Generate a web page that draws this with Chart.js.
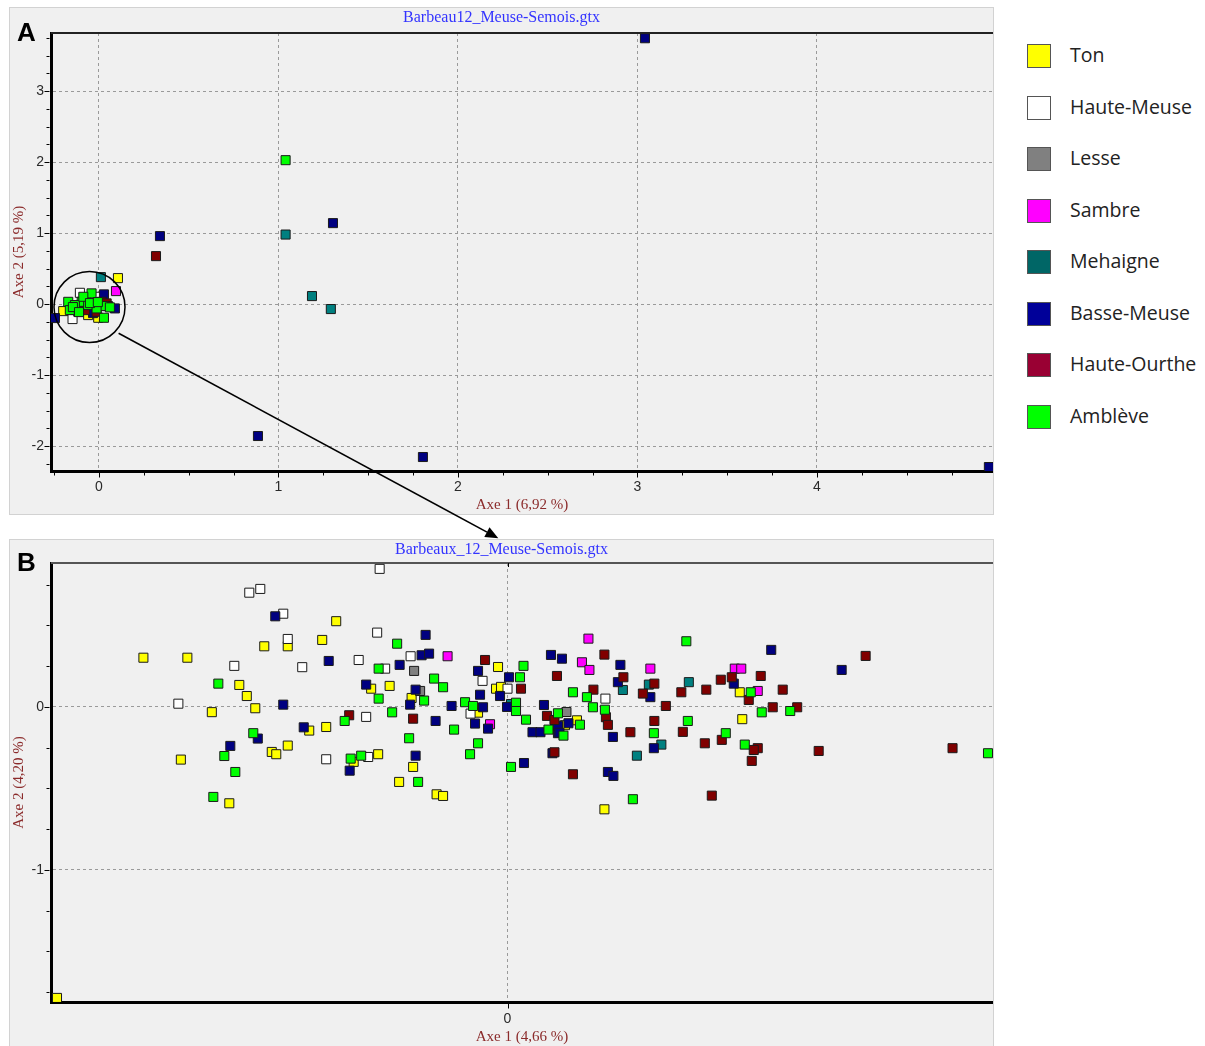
<!DOCTYPE html>
<html>
<head>
<meta charset="utf-8">
<script src="https://cdn.jsdelivr.net/npm/chart.js@4.4.1/dist/chart.umd.min.js"></script>
<style>
  body { margin: 0; background: #fff; width: 1205px; height: 1046px; position: relative; overflow: hidden; }
  .panel { position: absolute; left: 9px; width: 985px; background: #f0f0f0; border: 1px solid #d2d2d2; box-sizing: border-box; }
  .chart-box { position: absolute; left: 10px; width: 983px; }
  .letter { position: absolute; left: 17px; font: bold 26px "Liberation Sans", sans-serif; color: #000; }
  .leg-sw { position: absolute; left: 1027px; width: 24px; height: 24px; box-sizing: border-box; border: 1px solid #555; }
  .leg-txt { position: absolute; left: 1070px; height: 24px; line-height: 24px; font: 19.5px "Open Sans", sans-serif; color: #222; white-space: nowrap; }
  #overlay { position: absolute; left: 0; top: 0; pointer-events: none; }
</style>
</head>
<body>
<div class="panel" style="top:7px;height:508px"></div>
<div class="panel" style="top:539px;height:508px"></div>
<div class="chart-box" style="top:8px;height:506px"><canvas id="chart-a" width="983" height="506"></canvas></div>
<div class="chart-box" style="top:540px;height:506px"><canvas id="chart-b" width="983" height="506"></canvas></div>
<div class="letter" style="top:17px">A</div>
<div class="letter" style="top:547px">B</div>
<div id="legend"></div>
<svg id="overlay" width="1205" height="1046">
  <circle cx="89.5" cy="307" r="35.5" fill="none" stroke="#000" stroke-width="1.5"/>
  <line x1="118.6" y1="333.3" x2="487" y2="532.1" stroke="#000" stroke-width="1.6"/>
  <polygon points="498.3,538.3 484.3,536.9 489.5,527.3" fill="#000"/>
</svg>

<script>
// Groupes (bassins)
const series = ["Ton", "Haute-Meuse", "Lesse", "Sambre", "Mehaigne", "Basse-Meuse", "Haute-Ourthe", "Amblève"];
const pointColors = ["#ffff00", "#ffffff", "#808080", "#ff00ff", "#008080", "#000080", "#800000", "#00ff00"];
const legendColors = ["#ffff00", "#ffffff", "#808080", "#ff00ff", "#006666", "#000099", "#990033", "#00ff00"];

// Graphique A : Barbeau12_Meuse-Semois.gtx  [axe1, axe2]
const aTon = [[0.106, 0.366], [-0.199, -0.099], [-0.060, -0.155], [-0.004, -0.193]];
const aHauteMeuse = [[-0.147, -0.211], [-0.106, 0.159], [0.006, 0.103]];
const aLesse = [[-0.072, 0.056]];
const aSambre = [[0.095, 0.183]];
const aMehaigne = [[1.040, 0.980], [1.187, 0.113], [1.292, -0.070], [0.011, 0.380]];
const aBasseMeuse = [[3.042, 3.746], [0.340, 0.958], [1.304, 1.141], [0.886, -1.859], [1.805, -2.155],
  [4.958, -2.296], [-0.245, -0.197], [0.028, 0.137], [0.089, -0.061], [-0.033, -0.127]];
const aHauteOurthe = [[0.318, 0.676], [0.015, 0.032], [-0.078, -0.085], [0.043, 0.010], [-0.013, -0.108], [0.050, -0.028]];
const aAmbleve = [[1.040, 2.028], [-0.041, 0.151], [-0.171, 0.032], [-0.096, 0.032], [0.024, -0.028], [0.061, -0.046],
  [0.028, -0.193], [-0.115, -0.108], [-0.060, -0.014], [-0.162, -0.085], [-0.134, -0.014], [-0.013, -0.061],
  [-0.087, 0.103], [-0.145, -0.042], [-0.050, 0.014], [-0.006, 0.028], [-0.111, -0.113]];

// Graphique B : Barbeaux_12_Meuse-Semois.gtx  [axe1, axe2]
const bTon = [[-0.343, 0.526], [-0.440, 0.372], [-0.487, 0.372], [-0.371, 0.411], [-0.729, 0.302], [-0.641, 0.302],
  [-0.537, 0.135], [-0.522, 0.067], [-0.592, -0.032], [-0.505, -0.008], [-0.397, -0.145], [-0.363, -0.123],
  [-0.472, -0.276], [-0.463, -0.290], [-0.440, -0.237], [-0.654, -0.323], [-0.557, -0.591], [-0.273, 0.112],
  [-0.236, 0.129], [-0.192, 0.055], [-0.189, -0.368], [-0.308, -0.337], [-0.259, -0.290], [-0.217, -0.460],
  [-0.142, -0.536], [-0.129, -0.546], [-0.019, 0.245], [-0.023, 0.112], [-0.013, 0.123], [-0.059, -0.035],
  [0.139, -0.082], [0.115, -0.112], [0.194, -0.628], [0.465, 0.090], [0.470, -0.075], [-0.902, -1.785]];
const bHauteMeuse = [[-0.517, 0.701], [-0.495, 0.724], [-0.449, 0.572], [-0.440, 0.417], [-0.547, 0.252],
  [-0.411, 0.244], [-0.659, 0.020], [-0.363, -0.321], [-0.256, 0.847], [-0.261, 0.456], [-0.298, 0.288],
  [-0.194, 0.311], [-0.245, 0.235], [-0.283, -0.061], [-0.279, -0.307], [-0.050, 0.160], [0.000, 0.112],
  [-0.074, -0.041], [0.196, 0.051]];
const bLesse = [[-0.187, 0.221], [-0.175, 0.098], [0.118, -0.031]];
const bSambre = [[-0.120, 0.311], [-0.035, -0.106], [0.162, 0.419], [0.149, 0.274], [0.164, 0.227], [0.286, 0.235],
  [0.455, 0.235], [0.468, 0.235], [0.501, 0.098]];
const bMehaigne = [[0.007, 0.018], [0.231, 0.104], [0.283, 0.137], [0.363, 0.152], [0.308, -0.231], [0.259, -0.299]];
const bBasseMeuse = [[-0.465, 0.556], [-0.358, 0.282], [-0.449, 0.014], [-0.408, -0.125], [-0.500, -0.194],
  [-0.555, -0.239], [-0.164, 0.442], [-0.172, 0.317], [-0.157, 0.327], [-0.216, 0.258], [-0.283, 0.137],
  [-0.184, 0.106], [-0.195, 0.014], [-0.112, 0.006], [-0.144, -0.086], [-0.184, -0.299], [-0.316, -0.391],
  [-0.059, 0.221], [0.003, 0.182], [0.087, 0.319], [-0.055, 0.075], [-0.015, 0.067], [-0.049, -0.002],
  [-0.001, 0.000], [0.073, 0.012], [-0.065, -0.102], [-0.039, -0.133], [0.033, -0.344], [0.050, -0.155],
  [0.066, -0.155], [0.101, -0.161], [0.090, -0.284], [0.109, 0.296], [0.226, 0.258], [0.221, 0.152],
  [0.286, 0.060], [0.453, 0.143], [0.122, -0.100], [0.101, -0.115], [0.104, -0.158], [0.211, -0.184],
  [0.293, -0.253], [0.201, -0.399], [0.212, -0.423], [0.528, 0.350], [0.669, 0.227]];
const bHauteOurthe = [[-0.317, -0.051], [-0.189, -0.072], [-0.045, 0.288], [0.099, 0.190], [0.027, 0.112],
  [0.079, -0.055], [0.094, -0.080], [0.094, -0.278], [0.194, 0.321], [0.232, 0.182], [0.294, 0.143],
  [0.271, 0.082], [0.348, 0.090], [0.398, 0.106], [0.427, 0.167], [0.449, 0.182], [0.507, 0.190],
  [0.483, 0.043], [0.172, 0.106], [0.197, -0.063], [0.201, -0.110], [0.317, 0.006], [0.246, -0.155],
  [0.294, -0.086], [0.351, -0.153], [0.395, -0.223], [0.429, -0.202], [0.501, -0.253], [0.493, -0.264],
  [0.489, -0.331], [0.131, -0.413], [0.409, -0.544], [0.717, 0.313], [0.551, 0.106], [0.531, -0.002],
  [0.580, -0.002], [0.623, -0.270], [0.891, -0.253]];
const bAmbleve = [[-0.579, 0.143], [-0.509, -0.161], [-0.567, -0.301], [-0.545, -0.399], [-0.589, -0.552],
  [-0.221, 0.388], [-0.258, 0.235], [-0.147, 0.174], [-0.129, 0.121], [-0.258, 0.051], [-0.167, 0.039],
  [-0.326, -0.086], [-0.231, -0.033], [-0.107, -0.139], [-0.197, -0.192], [-0.314, -0.317], [-0.293, -0.299],
  [-0.179, -0.460], [0.032, 0.252], [0.025, 0.182], [-0.085, 0.029], [-0.069, 0.006], [0.017, 0.026],
  [0.017, -0.025], [0.037, -0.078], [-0.059, -0.223], [-0.075, -0.290], [0.007, -0.368], [0.101, -0.039],
  [0.082, -0.139], [0.358, 0.403], [0.131, 0.090], [0.159, 0.060], [0.171, -0.002], [0.195, -0.017],
  [0.145, -0.109], [0.112, -0.176], [0.361, -0.086], [0.293, -0.161], [0.437, -0.161], [0.475, -0.231],
  [0.251, -0.566], [0.487, 0.090], [0.509, -0.033], [0.566, -0.025], [0.962, -0.284]];

const aData = [aTon, aHauteMeuse, aLesse, aSambre, aMehaigne, aBasseMeuse, aHauteOurthe, aAmbleve];
const bData = [bTon, bHauteMeuse, bLesse, bSambre, bMehaigne, bBasseMeuse, bHauteOurthe, bAmbleve];

// Graduations
const aTicksX = [0, 1, 2, 3, 4];
const aTicksY = [-2, -1, 0, 1, 2, 3];
const bTicksX = [0];
const bTicksY = [-1, 0];

// Légende (HTML)
const legend = document.getElementById("legend");
series.forEach((nom, i) => {
    const cy = 56 + i * 51.5;
    legend.innerHTML += `
        <div class="leg-sw" style="top:${cy - 12}px;background:${legendColors[i]}"></div>
        <div class="leg-txt" style="top:${cy - 15}px">${nom}</div>
    `;
});

// Ligne du haut + petites graduations
const axisDecor = {
    id: "axisDecor",
    afterDraw(chart, args, opts) {
        const { ctx, chartArea: a, scales: { x, y } } = chart;
        ctx.save();
        ctx.strokeStyle = opts.topColor;
        ctx.lineWidth = 2;
        ctx.beginPath();
        ctx.moveTo(a.left, a.top);
        ctx.lineTo(a.right, a.top);
        ctx.stroke();

        ctx.strokeStyle = "#000";
        ctx.lineWidth = 1;
        ctx.beginPath();
        const isMajor = v => Math.abs(v - Math.round(v)) < 1e-6;
        if (opts.minorX) {
            for (let v = Math.ceil(x.min / opts.minorX) * opts.minorX; v <= x.max; v += opts.minorX) {
                const px = Math.round(x.getPixelForValue(v)) + 0.5;
                const len = isMajor(v) ? 5 : 3;
                ctx.moveTo(px, a.bottom + 1.5);
                ctx.lineTo(px, a.bottom + 1.5 + len);
            }
        }
        opts.ticksX.forEach(v => {
            const px = Math.round(x.getPixelForValue(v)) + 0.5;
            ctx.moveTo(px, a.bottom + 1.5);
            ctx.lineTo(px, a.bottom + 6.5);
            ctx.moveTo(px, a.top);
            ctx.lineTo(px, a.top + 4);
        });
        for (let v = Math.ceil(y.min / opts.minorY) * opts.minorY; v <= y.max; v += opts.minorY) {
            const py = Math.round(y.getPixelForValue(v)) + 0.5;
            const len = isMajor(v) ? 5 : 3;
            ctx.moveTo(a.left - 1.5 - len, py);
            ctx.lineTo(a.left - 1.5, py);
        }
        ctx.stroke();
        ctx.restore();
    }
};

function axe(min, max, ticks, titre, isX, pad) {
    return {
        type: "linear",
        min: min,
        max: max,
        afterBuildTicks: s => { s.ticks = ticks.map(v => ({ value: v })); },
        afterFit: s => { if (isX) s.height = pad.size; else s.width = 41; },
        grid: { color: "#9a9a9a", lineWidth: 1, drawTicks: false },
        border: { display: true, color: "#000", width: 3, dash: [3, 3] },
        ticks: {
            padding: pad.ticks,
            color: "#2a2a2a",
            font: { family: "Liberation Sans", size: 14 },
            callback: v => String(v)
        },
        title: {
            display: true,
            text: titre,
            color: "#8b2b2b",
            font: { family: "Liberation Serif", size: 15 },
            padding: { top: 0, bottom: 0 }
        }
    };
}

function creerGraphique(id, donnees, titre, titleBottom, xs, ys, decor) {
    const ctx = document.getElementById(id).getContext("2d");
    return new Chart(ctx, {
        type: "scatter",
        data: {
            datasets: series.map((nom, i) => ({
                label: nom,
                data: donnees[i].map(p => ({ x: p[0], y: p[1] })),
                backgroundColor: pointColors[i],
                borderColor: "#1a1a1a",
                borderWidth: 1,
                pointStyle: "rect",
                pointRadius: 6.4,
                order: series.length - i
            }))
        },
        options: {
            responsive: false,
            animation: false,
            events: [],
            layout: { padding: 0, autoPadding: false },
            scales: { x: xs, y: ys },
            plugins: {
                legend: { display: false },
                tooltip: { enabled: false },
                title: {
                    display: true,
                    text: titre,
                    color: "#3333ff",
                    font: { family: "Liberation Serif", size: 16, weight: "normal" },
                    padding: { top: 0, bottom: titleBottom }
                },
                axisDecor: decor
            }
        },
        plugins: [axisDecor]
    });
}

creerGraphique("chart-a", aData, "Barbeau12_Meuse-Semois.gtx", 5.8,
    axe(-0.267, 4.981, aTicksX, "Axe 1 (6,92 %)", true, { size: 43, ticks: 8 }),
    axe(-2.352, 3.82, aTicksY, "Axe 2 (5,19 %)", false, { ticks: 7 }),
    { topColor: "#222", minorX: 0.25, minorY: 0.25, ticksX: [] });

creerGraphique("chart-b", bData, "Barbeaux_12_Meuse-Semois.gtx", 3.8,
    axe(-0.914, 0.972, bTicksX, "Axe 1 (4,66 %)", true, { size: 44, ticks: 9 }),
    axe(-1.81, 0.883, bTicksY, "Axe 2 (4,20 %)", false, { ticks: 7 }),
    { topColor: "#555", minorX: null, minorY: 0.25, ticksX: bTicksX });
</script>
</body>
</html>
